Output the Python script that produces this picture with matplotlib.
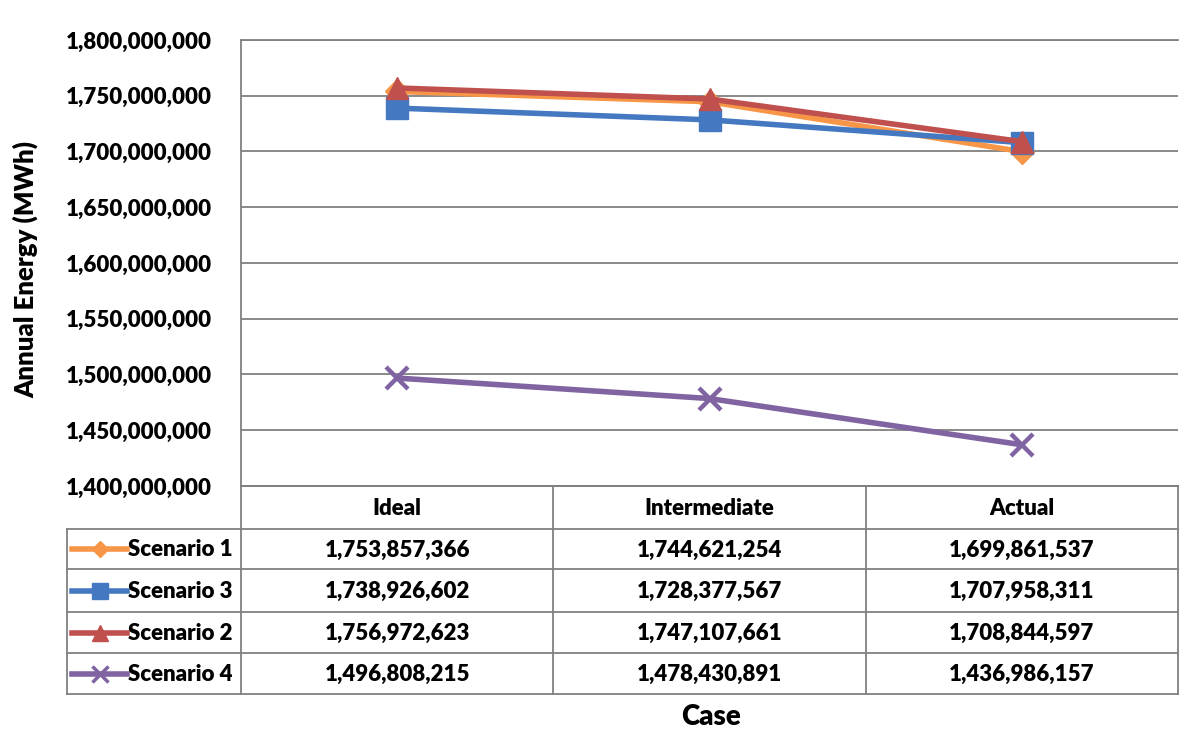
import matplotlib.pyplot as plt
from matplotlib.ticker import FuncFormatter, MultipleLocator

plt.rcParams['font.family'] = ['Lato', 'DejaVu Sans']
plt.rcParams['font.weight'] = 'heavy'

cases = ['Ideal', 'Intermediate', 'Actual']
names = ['Scenario 1', 'Scenario 3', 'Scenario 2', 'Scenario 4']
scenario_1 = [1753857366, 1744621254, 1699861537]
scenario_3 = [1738926602, 1728377567, 1707958311]
scenario_2 = [1756972623, 1747107661, 1708844597]
scenario_4 = [1496808215, 1478430891, 1436986157]
series = [scenario_1, scenario_3, scenario_2, scenario_4]

colors = ['#F79646', '#4479C2', '#C0504D', '#8064A2']
markers = ['D', 's', '^', 'x']
msizes = [12, 16, 16, 16]
grid_c = '#808080'

W, H = 1181, 729
fig = plt.figure(figsize=(W / 100, H / 100), dpi=100)

# plot area in pixels
x0, x1, y_top, y_bot = 241, 1178, 40, 486
ax = fig.add_axes([x0 / W, 1 - y_bot / H, (x1 - x0) / W, (y_bot - y_top) / H])
xs = range(len(cases))
for vals, c, m, ms in zip(series, colors, markers, msizes):
    ax.plot(xs, vals, color=c, lw=4, marker=m, ms=ms, mew=3.2 if m == 'x' else 1,
            mec=c, mfc=c, solid_joinstyle='round', zorder=3)
ax.set_xlim(-0.5, len(cases) - 0.5)
ax.set_ylim(1.4e9, 1.8e9)
ax.yaxis.set_major_locator(MultipleLocator(5e7))
ax.yaxis.set_major_formatter(FuncFormatter(lambda v, p: f'{v:,.0f}'))
ax.set_xticks([])
ax.tick_params(axis='y', length=0, pad=21, labelsize=16)
ax.grid(axis='y', color=grid_c, lw=1.3)
for s in ['top', 'bottom', 'left']:
    ax.spines[s].set_color(grid_c)
    ax.spines[s].set_linewidth(1.3)
ax.spines['right'].set_visible(False)

# data table below the plot
row_edges = [486, 529, 569, 612, 653, 694]
t_left = 67
unit = (x1 - x0) / len(cases)
lab_w = (x0 - t_left) / unit
tax = fig.add_axes([t_left / W, 1 - row_edges[-1] / H, (x1 - t_left) / W,
                    (row_edges[-1] - row_edges[0]) / H])
tax.set_xlim(-0.5 - lab_w, len(cases) - 0.5)
tax.set_ylim(row_edges[-1], row_edges[0])
tax.axis('off')
lk = dict(color=grid_c, lw=1.3, clip_on=False)
left_x = -0.5 - lab_w
tax.plot([-0.5, len(cases) - 0.5], [row_edges[0]] * 2, **lk)
for y in row_edges[1:]:
    tax.plot([left_x, len(cases) - 0.5], [y, y], **lk)
tax.plot([left_x, left_x], [row_edges[1], row_edges[-1]], **lk)
for i in range(len(cases) + 1):
    tax.plot([i - 0.5, i - 0.5], [row_edges[0], row_edges[-1]], **lk)

def mid(k):
    return (row_edges[k] + row_edges[k + 1]) / 2

for i, c in enumerate(cases):
    tax.text(i, mid(0) + 1, c, ha='center', va='center', fontsize=16)
for r, (nm, vals, c, m) in enumerate(zip(names, series, colors, markers)):
    y = mid(r + 1)
    k0 = left_x + 5 / unit
    k1 = left_x + 60 / unit
    tax.plot([k0, k1], [y, y], color=c, lw=4, clip_on=False)
    tax.plot([(k0 + k1) / 2], [y], color=c, marker=m, ms=11 if m != 'D' else 8,
             mew=2.5 if m == 'x' else 1, clip_on=False)
    tax.text(left_x + 61 / unit, y + 1, nm, ha='left', va='center', fontsize=16)
    for i, v in enumerate(vals):
        tax.text(i, y + 1, f'{v:,}', ha='center', va='center', fontsize=16)

fig.text(26 / W, 1 - 270 / H, 'Annual Energy (MWh)', rotation=90, ha='center',
         va='center', fontsize=18.5)
fig.text(711 / W, 1 - 717 / H, 'Case', ha='center', va='center', fontsize=20)

fig.savefig('out.png', dpi=100, facecolor='white')
